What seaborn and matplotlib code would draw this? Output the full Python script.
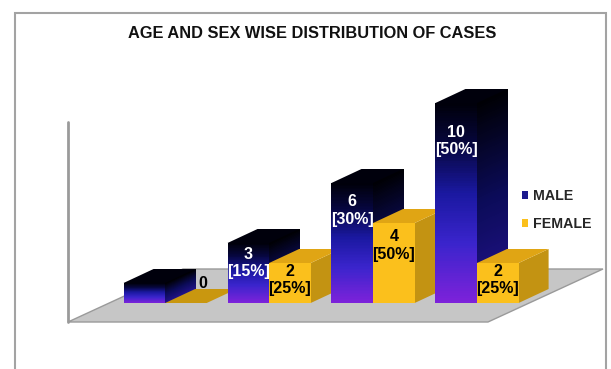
import numpy as np
import pandas as pd
import matplotlib
matplotlib.use("Agg")
import matplotlib.pyplot as plt
import seaborn as sns
from matplotlib.patches import Polygon, Rectangle, Patch
from matplotlib.collections import PolyCollection
from matplotlib.transforms import IdentityTransform
from matplotlib.colors import LinearSegmentedColormap
from matplotlib.font_manager import FontProperties

# ---------------- data ----------------
age_groups = ["Group 1", "Group 2", "Group 3", "Group 4"]
series = ["MALE", "FEMALE"]
male_counts = [1, 3, 6, 10]
female_counts = [0, 2, 4, 2]
male_pct = [5, 15, 30, 50]
female_pct = [0, 25, 50, 25]
title = "AGE AND SEX WISE DISTRIBUTION OF CASES"

# ---------------- style ----------------
sns.set_style("white")
plt.rcParams["font.family"] = ["Liberation Sans", "DejaVu Sans"]

W, H, DPI = 611, 369, 100
fig = plt.figure(figsize=(W / DPI, H / DPI), dpi=DPI)

# axes = front plane of the bars
ax = fig.add_axes([109 / W, 66 / H, 420 / W, 210 / H])

df = pd.DataFrame({
    "age": age_groups * 2,
    "count": male_counts + female_counts,
    "sex": [series[0]] * 4 + [series[1]] * 4,
})
male_front = "#2a22c0"
fem_front = "#FBC01C"
sns.barplot(data=df, x="age", y="count", hue="sex", hue_order=series,
            order=age_groups, palette=[male_front, fem_front], saturation=1,
            width=0.8, legend=False, ax=ax, linewidth=0)
ax.set_xlim(-0.54, 3.5)
ax.set_ylim(0, 10.5)
ax.set_autoscale_on(False)
ax.axis("off")

ident = IdentityTransform()
DX, DY = 30, 14            # bar depth in pixels
FDX0, FDY0 = -41, -19      # floor front offset
FDX1, FDY1 = 74, 34        # floor back offset

def add(artist):
    artist.set_clip_on(False)
    ax.add_artist(artist)

# floor and wall line
x0d, yb = ax.transData.transform((-0.54, 0))
x1d, _ = ax.transData.transform((3.5, 0))
_, y10 = ax.transData.transform((0, 10))
add(Polygon([(x0d + FDX0, yb + FDY0), (x1d + FDX0, yb + FDY0),
             (x1d + FDX1, yb + FDY1), (x0d + FDX1, yb + FDY1)],
            closed=True, transform=ident, facecolor="#c6c6c6",
            edgecolor="#9a9a9a", lw=1.0, zorder=1))
add(plt.Line2D([x0d + FDX0, x0d + FDX0], [yb + FDY0, y10 + FDY0],
               transform=ident, color="#9a9a9a", lw=2.0, zorder=1))

front_cmap = LinearSegmentedColormap.from_list(
    "mf", [(0, "#7e22da"), (0.3, "#3a24cc"), (0.55, "#1a18a0"),
           (0.8, "#06063c"), (1, "#00000a")])
side_cmap = LinearSegmentedColormap.from_list(
    "ms", [(0, "#22128a"), (0.5, "#0b0b58"), (1, "#000004")])

def strips_rect(xa, xb, ya, yb_, n=80):
    polys = []
    for k in range(n):
        t0, t1 = k / n, (k + 1) / n
        y0 = ya + (yb_ - ya) * t0
        y1 = min(ya + (yb_ - ya) * t1 + 0.6, yb_)
        polys.append([(xa, y0), (xb, y0), (xb, y1), (xa, y1)])
    return polys

def strips_side(xr, ya, yb_, n=80):
    polys = []
    for k in range(n):
        t0, t1 = k / n, (k + 1) / n
        y0 = ya + (yb_ - ya) * t0
        y1 = min(ya + (yb_ - ya) * t1 + 0.6, yb_)
        polys.append([(xr, y0), (xr + DX, y0 + DY), (xr + DX, y1 + DY), (xr, y1)])
    return polys

n = 80
tvals = (np.arange(n) + 0.5) / n
label_fs = 11.5

for si, cont in enumerate(ax.containers):
    vals = male_counts if si == 0 else female_counts
    pcts = male_pct if si == 0 else female_pct
    for i, patch in enumerate(cont.patches):
        z = 10 + i * 10 + si * 5
        x = patch.get_x()
        w = patch.get_width()
        h = patch.get_height()
        (xa, ya) = ax.transData.transform((x, 0))
        (xb, yt) = ax.transData.transform((x + w, h))
        patch.set_zorder(z + 3)
        # side face
        if si == 0:
            if yt - ya > 0.5:
                add(PolyCollection(strips_side(xb, ya, yt, n), transform=ident,
                                   facecolors=side_cmap(tvals), edgecolors="none",
                                   antialiased=False, zorder=z + 1))
        else:
            add(Polygon([(xb, ya), (xb + DX, ya + DY), (xb + DX, yt + DY), (xb, yt)],
                        transform=ident, facecolor="#C39312", edgecolor="none",
                        zorder=z + 1))
        # top face
        top_col = "#00000c" if si == 0 else ("#E0A514" if h > 0 else "#C9970F")
        add(Polygon([(xa, yt), (xb, yt), (xb + DX, yt + DY), (xa + DX, yt + DY)],
                    transform=ident, facecolor=top_col, edgecolor="none",
                    zorder=z + 2))
        # gradient front for male
        if si == 0 and yt - ya > 0.5:
            add(PolyCollection(strips_rect(xa, xb, ya, yt, n), transform=ident,
                               facecolors=front_cmap(tvals), edgecolors="none",
                               antialiased=False, zorder=z + 3.5))
        # labels
        v = vals[i]
        col = "white" if si == 0 else "black"
        cx = (xa + xb) / 2
        if v == 0:
            txt = f"{v}"
            lx, ly = cx + DX / 2 + 2, ya + DY / 2 + 13
        elif (yt - ya) < 30:
            txt = f"{v}\n[{pcts[i]}%]"
            lx, ly = cx, yt + 34
        else:
            txt = f"{v}\n[{pcts[i]}%]"
            lx, ly = cx, yt - (12 + 2.6 * v)
        fig.text(lx / W, ly / H, txt, ha="center", va="center", color=col,
                 fontsize=label_fs, fontweight="bold", linespacing=1.2,
                 zorder=200)

# title
fig.text(312 / W, 1 - 34 / H, title, ha="center", va="center",
         fontsize=11.8, fontweight="bold", color="#111111")

# legend
handles = [Patch(facecolor="#1c1a8e", edgecolor="none"),
           Patch(facecolor="#FBC01C", edgecolor="none")]
fig.legend(handles, series, loc="center left",
           bbox_to_anchor=(515 / W, 1 - 210 / H), frameon=False,
           handlelength=0.45, handleheight=0.45, handletextpad=0.35,
           labelspacing=1.0, borderpad=0,
           prop=FontProperties(family="Liberation Sans", weight="bold", size=10.2))

# outer frame
fig.add_artist(Rectangle((15, -10), 591, 366, transform=ident, fill=False,
                         edgecolor="#a3a3a3", lw=1.5, zorder=0))

fig.savefig("out.png", dpi=DPI)
